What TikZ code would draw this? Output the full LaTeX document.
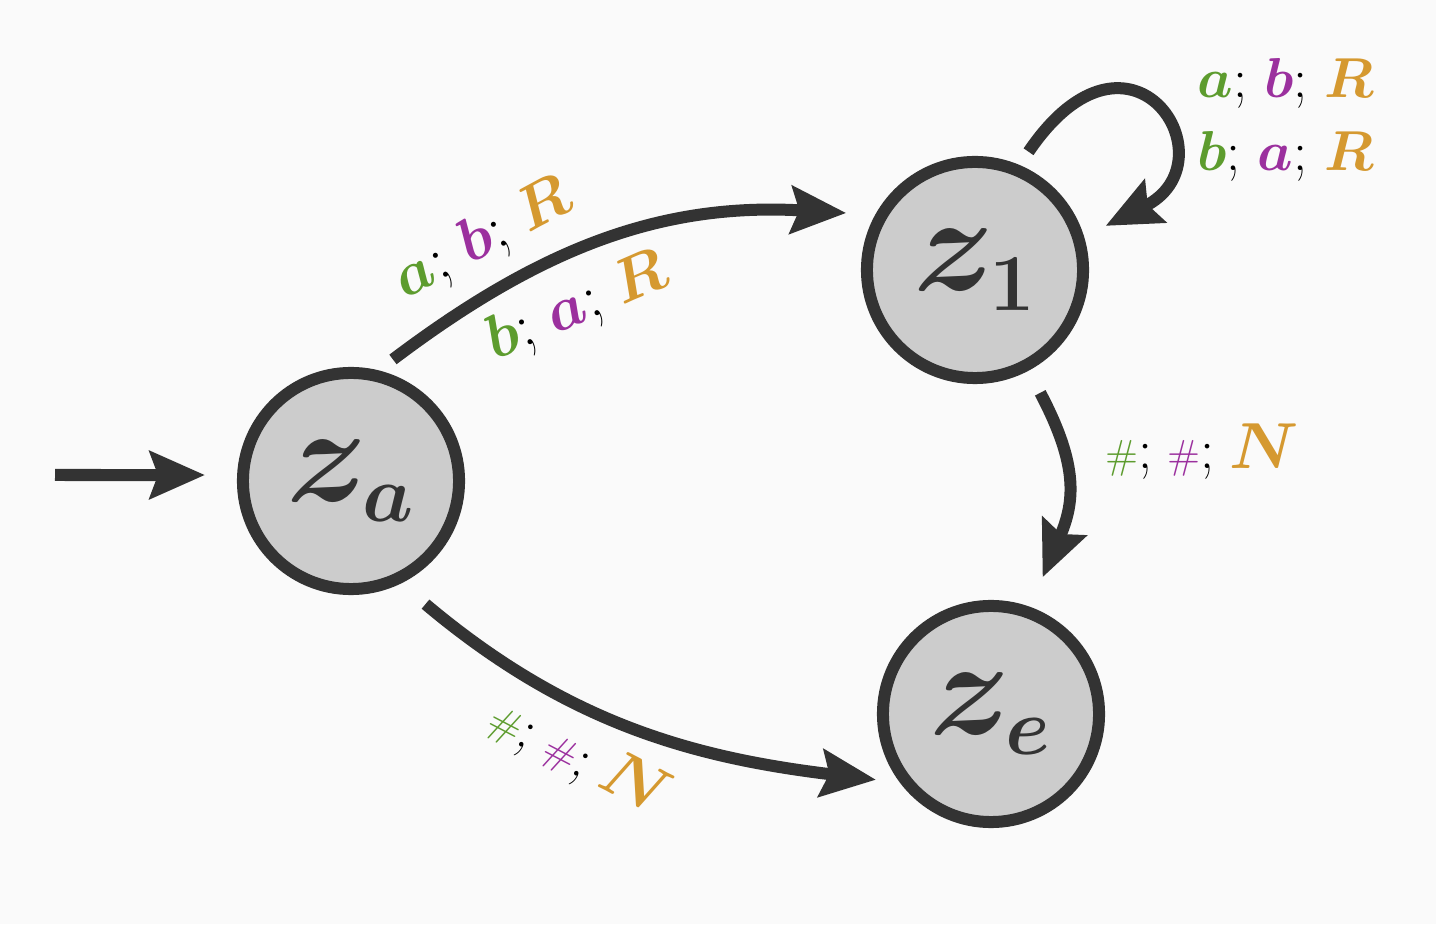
\RequirePackage{fix-cm}
\documentclass[tikz,border=0pt]{standalone}
\usepackage{bm}
\usetikzlibrary{arrows.meta}
\DeclareMathSizes{39}{39}{23}{16}
\DeclareMathSizes{16}{16}{11}{8}
\DeclareMathSizes{17.5}{17.5}{12}{9}
\DeclareMathSizes{18.5}{18.5}{13}{9}
\definecolor{bg}{HTML}{FAFAFA}
\definecolor{nodefill}{HTML}{CCCCCC}
\definecolor{strokec}{HTML}{333333}
\definecolor{cg}{HTML}{5D9C2E}
\definecolor{cp}{HTML}{9B309E}
\definecolor{co}{HTML}{D59930}
\newcommand{\gsym}[1]{{\color{cg}#1}}
\newcommand{\psym}[1]{{\color{cp}#1}}
\newcommand{\osym}[1]{{\color{co}#1}}
\newcommand{\hashsym}{{\fontsize{11.5}{14}\selectfont\#}}
\newcommand{\bigN}{{\fontsize{18.5}{22}\selectfont$\bm{N}$}}
\newcommand{\hashlabel}{\gsym{\hashsym};\hspace{4.2pt}\psym{\hashsym};\hspace{4.2pt}\osym{\bigN}}
\tikzset{
  stnode/.style={circle, draw=strokec, fill=nodefill, line width=0.12cm,
    minimum size=2.16cm, inner sep=0pt, text=strokec,
    font=\fontsize{39}{47}\selectfont},
  edge/.style={draw=strokec, line width=0.12cm,
    -{Stealth[length=0.55cm,width=0.47cm,inset=0.08cm]}},
  lbl/.style={inner sep=0pt, font=\fontsize{16}{20.8}\selectfont, text=black},
  lblbig/.style={lbl, font=\fontsize{17.5}{21}\selectfont},
}
\begin{document}
\begin{tikzpicture}[x=0.01cm,y=0.01cm]
\useasboundingbox (0,0) rectangle (1436,924);
\fill[bg] (0,0) rectangle (1436,924);
\node[stnode] (za) at (351,443) {$\bm{z_a}$};
\node[stnode] (z1) at (975,654) {$\bm{z_1}$};
\node[stnode] (ze) at (991,210) {$\bm{z_e}$};
\coordinate (init) at (55,449);
\draw[edge, shorten >=0.32cm] (init) -- (za.177);
\draw[edge, shorten <=0.18cm, shorten >=0.29cm]
  (za.76) .. controls +(162,122.4) and +(-214,12.4) .. (z1.151)
  node[lblbig, sloped, pos=.28, above=0.18cm]
    {\gsym{$\bm{a}$}; \psym{$\bm{b}$}; \osym{$\bm{R}$}}
  node[lblbig, sloped, pos=.39, below=0.18cm]
    {\gsym{$\bm{b}$}; \psym{$\bm{a}$}; \osym{$\bm{R}$}};
\draw[edge, shorten <=0.25cm, shorten >=0.32cm]
  (z1.-62) .. controls +(50,-94.7) and +(45,105.4) .. (ze.70)
  node[lbl, pos=.34, anchor=west, xshift=0.38cm] {\hashlabel};
\draw[edge, shorten <=0.32cm, shorten >=0.24cm]
  (za.-64) .. controls +(165.7,-139.4) and +(-207.6,25.1) .. (ze.217)
  node[lbl, sloped, pos=.43, rotate=-4, below=0.17cm] {\hashlabel};
\draw[edge, shorten <=0.16cm, shorten >=0.24cm]
  (z1.67) .. controls +(112,165) and +(150,75) .. (z1.17)
  node[lbl, pos=.6, anchor=west, xshift=0.33cm, yshift=0.12cm, align=left]
    {\gsym{$\bm{a}$}; \psym{$\bm{b}$}; \osym{$\bm{R}$}\\
     \gsym{$\bm{b}$}; \psym{$\bm{a}$}; \osym{$\bm{R}$}};
\end{tikzpicture}
\end{document}
